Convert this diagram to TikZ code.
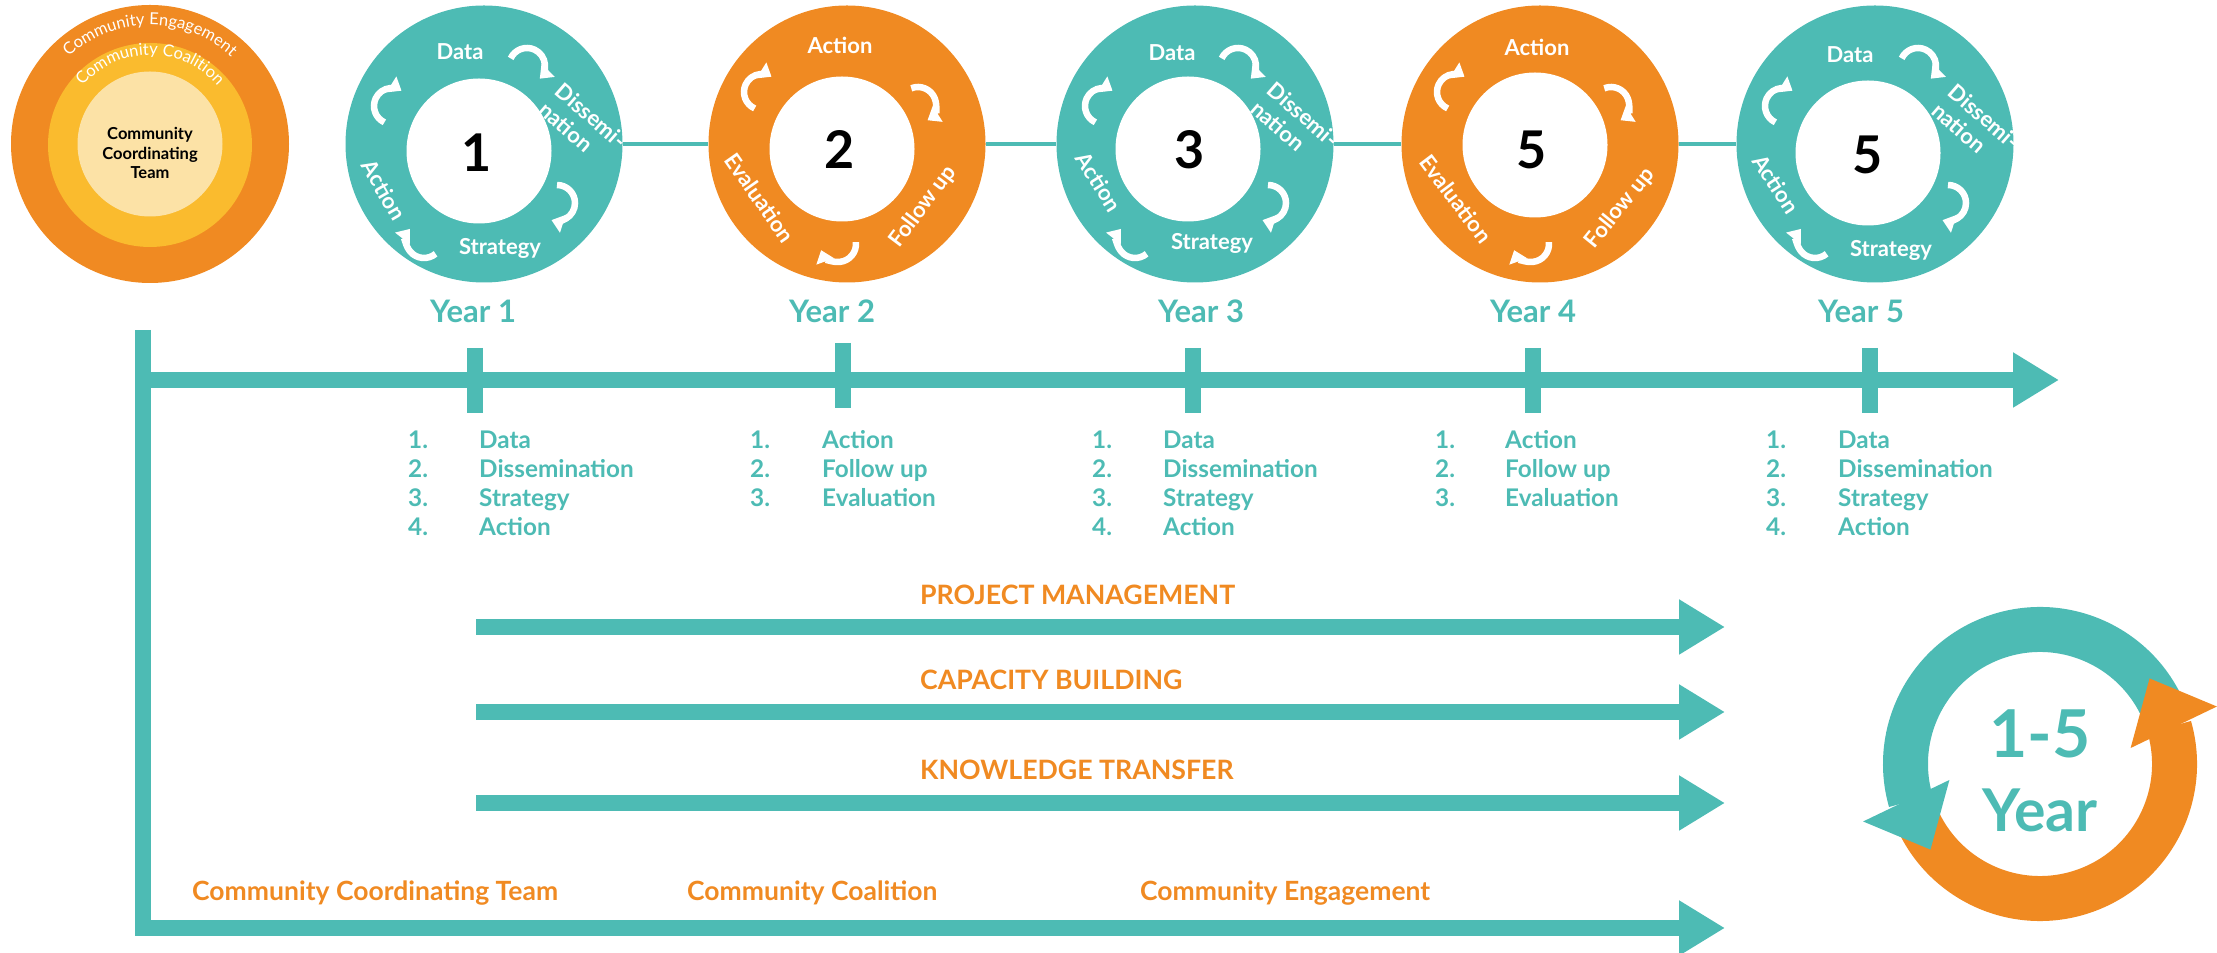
\documentclass[tikz,border=0pt]{standalone}
\usepackage{fontspec}
\setmainfont{Lato}
\usetikzlibrary{arrows.meta,decorations.text}
\definecolor{tl}{HTML}{4DBBB4}
\definecolor{org}{HTML}{F08A22}
\definecolor{ylw}{HTML}{FABB2E}
\definecolor{lyw}{HTML}{FCE2A6}
\newcommand\ringfont{\fontsize{16.5}{16.5}\selectfont\color{white}}
\tikzset{
  ringlbl/.style={text=white, font=\bfseries\fontsize{22}{25}\selectfont, inner sep=0pt},
  numlbl/.style={text=black, font=\bfseries\fontsize{52}{52}\selectfont, inner sep=0pt},
  yrlbl/.style={text=tl, font=\bfseries\fontsize{31}{31}\selectfont, anchor=base, inner sep=0pt},
  lst/.style={text=tl, font=\bfseries\fontsize{24.3}{24.3}\selectfont, anchor=base west, inner sep=0pt},
  olbl/.style={text=org, font=\bfseries\fontsize{26.7}{26.7}\selectfont, anchor=base west, inner sep=0pt},
  bottomlbl/.style={text=org, font=\bfseries\fontsize{26.5}{26.5}\selectfont, anchor=base west, inner sep=0pt},
  bar/.style={tl, line width=16pt},
  bigarrow/.style={bar, -{Triangle[length=46pt,width=52pt]}},
  warrow/.style={white, line width=6.5pt, -{Triangle[length=12pt,width=18pt]}},
  ringdisc/.style={circle, minimum size=277pt, inner sep=0pt},
  holedisc/.style={circle, fill=white, minimum size=145pt, inner sep=0pt},
}
\begin{document}
\begin{tikzpicture}[x=1pt,y=1pt]
\useasboundingbox (0,0) rectangle (2217,953);

% ---------- left nested circles ----------
\node[circle, fill=org, minimum size=278pt, inner sep=0pt] (eng) at (150,809) {};
\node[circle, fill=ylw, minimum size=204pt, inner sep=0pt] (coa) at (150,808) {};
\node[circle, fill=lyw, minimum size=145pt, inner sep=0pt] (cct) at (150,809) {};
\node[align=center, text=black, font=\bfseries\fontsize{16.5}{19.5}\selectfont, inner sep=0pt] (cctt) at (150,800) {Community\\Coordinating\\Team};
\path[decorate, decoration={text along path, text={|\ringfont|Community Engagement}, text align=center}]
  (150,809) ++(170:119) arc[start angle=170, end angle=10, radius=119];
\path[decorate, decoration={text along path, text={|\ringfont|Community Coalition}, text align=center}]
  (150,809) ++(170:89) arc[start angle=170, end angle=10, radius=89];

% ---------- cycle circles ----------
\node[ringdisc, fill=tl] (c1) at (484,809) {};
\node[ringdisc, fill=org] (c2) at (847,809) {};
\node[ringdisc, fill=tl] (c3) at (1195,809) {};
\node[ringdisc, fill=org] (c4) at (1540,809) {};
\node[ringdisc, fill=tl] (c5) at (1875,809) {};
\draw[tl, line width=3.5pt] (c1) -- (c2);
\draw[tl, line width=3.5pt] (c2) -- (c3);
\draw[tl, line width=3.5pt] (c3) -- (c4);
\draw[tl, line width=3.5pt] (c4) -- (c5);

\node[holedisc] (w1) at (479,802) {};
\node[holedisc] (w2) at (842,804) {};
\node[holedisc] (w3) at (1188,804) {};
\node[holedisc] (w4) at (1535,808) {};
\node[holedisc] (w5) at (1868,800) {};

\node[numlbl] (n1) at (477,800) {1};
\node[numlbl] (n2) at (840,803) {2};
\node[numlbl] (n3) at (1190,803) {3};
\node[numlbl] (n4) at (1532,803) {5};
\node[numlbl] (n5) at (1868,798) {5};

% teal circle labels
\begin{scope}
\clip (484,809) circle[radius=138.5];
\node[ringlbl] (d1) at (460,901) {Data};
\node[ringlbl, rotate=-41, align=left] (s1) at (583,828) {Dissemi-\\nation};
\node[ringlbl] (t1) at (500,705) {Strategy};
\node[ringlbl, rotate=-60] (a1) at (384,763) {Action};
\end{scope}
\begin{scope}
\clip (1195,809) circle[radius=138.5];
\node[ringlbl] (d3) at (1172,900) {Data};
\node[ringlbl, rotate=-41, align=left] (s3) at (1295,829) {Dissemi-\\nation};
\node[ringlbl] (t3) at (1212,710) {Strategy};
\node[ringlbl, rotate=-58] (a3) at (1099,771) {Action};
\end{scope}
\begin{scope}
\clip (1875,809) circle[radius=138.5];
\node[ringlbl] (d5) at (1850,898) {Data};
\node[ringlbl, rotate=-41, align=left] (s5) at (1976,827) {Dissemi-\\nation};
\node[ringlbl] (t5) at (1891,703) {Strategy};
\node[ringlbl, rotate=-57] (a5) at (1776,769) {Action};
\end{scope}
% orange circle labels
\node[ringlbl] (a2) at (840,908) {Action};
\node[ringlbl, rotate=53] (f2) at (923,746) {Follow up};
\node[ringlbl, rotate=-55] (e2) at (760,755) {Evaluation};
\node[ringlbl] (a4) at (1537,906) {Action};
\node[ringlbl, rotate=51] (f4) at (1620,745) {Follow up};
\node[ringlbl, rotate=-53] (e4) at (1456,754) {Evaluation};

% white cycle arrows
\foreach \cx in {484,1195,1875} {
  \draw[warrow] (\cx+43,887) ++(155:18) arc[start angle=155, end angle=-45, radius=18];
  \draw[warrow] (\cx+73,750) ++(90:18) arc[start angle=90, end angle=-108, radius=18];
  \draw[warrow] (\cx-60,713) ++(-50:18) arc[start angle=-50, end angle=-218, radius=18];
  \draw[warrow] (\cx-92,847) ++(245:18) arc[start angle=245, end angle=58, radius=18];
}
\foreach \cx in {847,1540} {
  \draw[warrow] (\cx-85,861) ++(246:18) arc[start angle=246, end angle=58, radius=18];
  \draw[warrow] (\cx+71,848) ++(112:18) arc[start angle=112, end angle=-58, radius=18];
  \draw[warrow] (\cx-9,709) ++(6:18) arc[start angle=6, end angle=-160, radius=18];
}

% ---------- year labels ----------
\node[yrlbl] (y1) at (473,630) {Year 1};
\node[yrlbl] (y2) at (832,630) {Year 2};
\node[yrlbl] (y3) at (1201,630) {Year 3};
\node[yrlbl] (y4) at (1533,630) {Year 4};
\node[yrlbl] (y5) at (1861,630) {Year 5};

% ---------- timeline ----------
\coordinate (vtop) at (143,623);
\coordinate (corner) at (143,25);
\coordinate (tlstart) at (143,573);
\coordinate (tlend) at (2059,573);
\draw[bigarrow, line join=miter] (vtop) -- (corner) -- (1725,25);
\draw[bigarrow] (tlstart) -- (tlend);
\draw[bar] (475,605) -- (475,540);
\draw[bar] (843,610) -- (843,545);
\draw[bar] (1193,605) -- (1193,540);
\draw[bar] (1533,605) -- (1533,540);
\draw[bar] (1870,605) -- (1870,540);

% ---------- lists ----------
\foreach \t [count=\i] in {Data,Dissemination,Strategy,Action} {
  \node[lst] (la\i) at (408,{504-28.7*(\i-1)}) {\i.};
  \node[lst] (lb\i) at (479,{504-28.7*(\i-1)}) {\t};
  \node[lst] (lc\i) at (1092,{504-28.7*(\i-1)}) {\i.};
  \node[lst] (ld\i) at (1163,{504-28.7*(\i-1)}) {\t};
  \node[lst] (le\i) at (1766,{504-28.7*(\i-1)}) {\i.};
  \node[lst] (lf\i) at (1838,{504-28.7*(\i-1)}) {\t};
}
\foreach \t [count=\i] in {Action,Follow up,Evaluation} {
  \node[lst] (lg\i) at (750,{504-28.7*(\i-1)}) {\i.};
  \node[lst] (lh\i) at (822,{504-28.7*(\i-1)}) {\t};
  \node[lst] (lk\i) at (1435,{504-28.7*(\i-1)}) {\i.};
  \node[lst] (lm\i) at (1505,{504-28.7*(\i-1)}) {\t};
}

% ---------- lower arrows ----------
\node[olbl] (pm) at (920,348) {PROJECT MANAGEMENT};
\node[olbl] (cb) at (920,263) {CAPACITY BUILDING};
\node[olbl] (kt) at (920,173) {KNOWLEDGE TRANSFER};
\coordinate (pms) at (476,326); \coordinate (pme) at (1725,326);
\coordinate (cbs) at (476,241); \coordinate (cbe) at (1725,241);
\coordinate (kts) at (476,150); \coordinate (kte) at (1725,150);
\draw[bigarrow] (pms) -- (pme);
\draw[bigarrow] (cbs) -- (cbe);
\draw[bigarrow] (kts) -- (kte);

\node[bottomlbl] (bl1) at (192,52) {Community Coordinating Team};
\node[bottomlbl] (bl2) at (687,52) {Community Coalition};
\node[bottomlbl] (bl3) at (1140,52) {Community Engagement};

% ---------- 1-5 Year cycle ----------
\coordinate (cy) at (2040,189);
\draw[tl, line width=45pt] (cy) ++(18:134.5) arc[start angle=18, end angle=196, radius=134.5];
\draw[org, line width=45pt] (cy) ++(198:134.5) arc[start angle=198, end angle=376, radius=134.5];
\fill[tl] ([shift={(190:92)}]cy) -- ([shift={(198:186)}]cy) -- ([shift={(218:139)}]cy) -- cycle;
\fill[org] ([shift={(10:92)}]cy) -- ([shift={(18:186)}]cy) -- ([shift={(38:139)}]cy) -- cycle;
\node[text=tl, font=\bfseries\fontsize{66}{66}\selectfont, anchor=base, inner sep=0pt] (yr15) at (2040,195) {1-5};
\node[text=tl, font=\bfseries\fontsize{59}{59}\selectfont, anchor=base, inner sep=0pt] (yryr) at (2040,121) {Year};
\end{tikzpicture}
\end{document}
